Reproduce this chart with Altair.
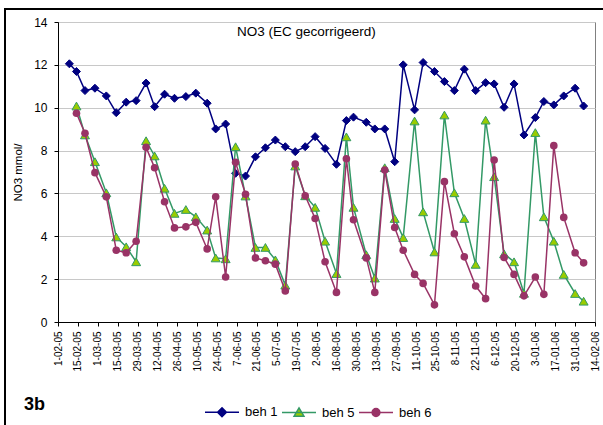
import altair as alt
import pandas as pd

# ---- data -------------------------------------------------------------
sample_dates = [
    "2005-02-09", "2005-02-14", "2005-02-20", "2005-02-27", "2005-03-07",
    "2005-03-14", "2005-03-21", "2005-03-28", "2005-04-04", "2005-04-10",
    "2005-04-17", "2005-04-24", "2005-05-02", "2005-05-09", "2005-05-17",
    "2005-05-23", "2005-05-30", "2005-06-06", "2005-06-13", "2005-06-20",
    "2005-06-27", "2005-07-04", "2005-07-11", "2005-07-18", "2005-07-25",
    "2005-08-01", "2005-08-08", "2005-08-16", "2005-08-23", "2005-08-28",
    "2005-09-06", "2005-09-12", "2005-09-19", "2005-09-26", "2005-10-02",
    "2005-10-10", "2005-10-16", "2005-10-24", "2005-10-31", "2005-11-07",
    "2005-11-14", "2005-11-22", "2005-11-29", "2005-12-05", "2005-12-12",
    "2005-12-19", "2005-12-26", "2006-01-03", "2006-01-09", "2006-01-16",
    "2006-01-23", "2006-01-31", "2006-02-06",
]

beh1 = [
    12.05, 11.69, 10.80, 10.91, 10.55, 9.77, 10.26, 10.33, 11.15, 10.05,
    10.63, 10.44, 10.52, 10.68, 10.21, 9.01, 9.24, 6.94, 6.81, 7.71,
    8.13, 8.49, 8.18, 7.95, 8.18, 8.65, 8.10, 7.36, 9.40, 9.56,
    9.32, 9.01, 9.01, 7.48, 12.00, 9.90, 12.11, 11.69, 11.22, 10.80,
    11.80, 10.80, 11.17, 11.11, 10.02, 11.11, 8.73, 9.54, 10.29, 10.13,
    10.55, 10.91, 10.08,
]

beh5 = [
    None, 10.08, 8.73, 7.48, 6.03, 3.97, 3.51, 2.81, 8.46, 7.75,
    6.24, 5.07, 5.25, 4.91, 4.29, 2.99, 2.95, 8.18, 5.88, 3.48,
    3.48, 2.90, 1.72, 7.28, 5.89, 5.35, 3.77, 2.26, 8.64, 5.35,
    3.14, 2.05, 7.20, 4.83, 3.94, 9.38, 5.14, 3.27, 9.66, 6.03,
    4.83, 2.69, 9.42, 6.78, 3.18, 2.81, 1.34, 8.84, 4.91, 3.77,
    2.22, 1.33, 0.97,
]

beh6 = [
    None, 9.74, 8.81, 6.97, 5.84, 3.35, 3.23, 3.77, 8.15, 7.20,
    5.61, 4.39, 4.44, 4.65, 3.41, 5.84, 2.10, 7.45, 5.96, 2.99,
    2.86, 2.70, 1.45, 7.37, 5.89, 4.83, 2.81, 1.38, 7.62, 4.77,
    2.99, 1.38, 7.09, 4.41, 3.35, 2.22, 1.80, 0.80, 6.55, 4.12,
    3.04, 1.68, 1.09, 7.56, 3.01, 2.22, 1.22, 2.10, 1.29, 8.23,
    4.88, 3.23, 2.76,
]

series_names = ["beh 1", "beh 5", "beh 6"]

tick_labels = [
    "1-02-05", "15-02-05", "1-03-05", "15-03-05", "29-03-05", "12-04-05",
    "26-04-05", "10-05-05", "24-05-05", "7-06-05", "21-06-05", "5-07-05",
    "19-07-05", "2-08-05", "16-08-05", "30-08-05", "13-09-05", "27-09-05",
    "11-10-05", "25-10-05", "8-11-05", "22-11-05", "6-12-05", "20-12-05",
    "3-01-06", "17-01-06", "31-01-06", "14-02-06",
]
y_ticks = [0, 2, 4, 6, 8, 10, 12, 14]

chart_title = "NO3 (EC gecorrigeerd)"
panel_label = "3b"
y_title = "NO3 mmol/"

# ---- styling ----------------------------------------------------------
FONT = "Liberation Sans"
line_colors = ["#000080", "#339966", "#993366"]
marker_fills = ["#000080", "#99cc00", "#993366"]
marker_shapes = ["diamond", "triangle-up", "circle"]
marker_sizes = [64, 80, 58]
marker_strokes = [1, 1, 0]
# legend symbols: a short line segment with the series marker on it
legend_paths = [
    "M-1,0L1,0M0,-0.26L0.26,0L0,0.26L-0.26,0Z",
    "M-1,0L1,0M0,-0.27L0.29,0.22L-0.29,0.22Z",
    "M-1,0L1,0M0.23,0A0.23,0.23,0,1,1,-0.23,0A0.23,0.23,0,1,1,0.23,0Z",
]


def label_to_ms(lbl):
    d, m, y = lbl.split("-")
    ts = pd.Timestamp(f"20{y}-{m}-{int(d):02d}", tz="UTC")
    return int(ts.value // 10**6)


tick_ms = [label_to_ms(t) for t in tick_labels]

rows = []
for i, d in enumerate(sample_dates):
    for name, vals in zip(series_names, [beh1, beh5, beh6]):
        if vals[i] is not None:
            rows.append({"date": d, "series": name, "value": vals[i]})
df = pd.DataFrame(rows)

x_enc = alt.X(
    "date:T",
    scale=alt.Scale(type="utc", domain=[tick_ms[0], tick_ms[-1]], nice=False),
    axis=alt.Axis(
        values=tick_ms,
        labelExpr="utcFormat(datum.value, '%-d-%m-%y')",
        title=None,
        grid=False,
        tickSize=4,
        labelAngle=270,
        labelAlign="right",
        labelBaseline="middle",
        labelPadding=5,
        labelFontSize=10,
        labelOverlap=False,
        labelFlush=False,
        labelBound=False,
    ),
)
y_enc = alt.Y(
    "value:Q",
    scale=alt.Scale(domain=[0, 14], nice=False),
    axis=alt.Axis(
        values=y_ticks,
        title=y_title,
        titleFontSize=11.5,
        titleFontWeight="normal",
        titleAngle=270,
        titleX=-40,
        titleY=150,
        titleAlign="center",
        titleBaseline="middle",
        grid=True,
        gridColor="#c8c8c8",
        gridWidth=1.2,
        tickSize=4,
        labelPadding=7,
        labelFontSize=12,
    ),
)

base = alt.Chart(df)

# outer chart frame
frame = alt.Chart(alt.Data(values=[{}])).mark_rect(
    fillOpacity=0, stroke="black", strokeWidth=2
).encode(
    x=alt.value(-53), x2=alt.value(570), y=alt.value(-13), y2=alt.value(430)
)

layers = [frame]
for name, lc, mf, shp, sz, sw in zip(series_names, line_colors, marker_fills,
                                     marker_shapes, marker_sizes, marker_strokes):
    sub = base.transform_filter(alt.datum.series == name)
    layers.append(
        sub.mark_line(color=lc, strokeWidth=1.5).encode(x=x_enc, y=y_enc)
    )
    layers.append(
        sub.mark_point(shape=shp, filled=True, fill=mf, stroke=lc,
                       strokeWidth=sw, size=sz, opacity=1).encode(x=x_enc, y=y_enc)
    )

legend = alt.Legend(
    title=None,
    orient="none",
    legendX=146,
    legendY=372,
    direction="horizontal",
    symbolSize=1156,
    symbolStrokeWidth=1.5,
    symbolOpacity=1,
    labelFont=FONT,
    labelFontSize=13,
    labelColor="black",
    labelOffset=5,
    columnPadding=1,
    padding=0,
)
legend_layer = base.mark_point(filled=True, opacity=0).encode(
    x=x_enc,
    y=y_enc,
    shape=alt.Shape("series:N", scale=alt.Scale(domain=series_names, range=legend_paths), legend=legend),
    fill=alt.Fill("series:N", scale=alt.Scale(domain=series_names, range=marker_fills), legend=legend),
    stroke=alt.Stroke("series:N", scale=alt.Scale(domain=series_names, range=line_colors), legend=legend),
)
layers.append(legend_layer)

title_text = alt.Chart(alt.Data(values=[{"t": chart_title}])).mark_text(
    align="left", baseline="alphabetic", font=FONT, fontSize=13.5, color="black"
).encode(x=alt.value(179), y=alt.value(14), text="t:N")

panel_text = alt.Chart(alt.Data(values=[{"t": panel_label}])).mark_text(
    align="left", baseline="alphabetic", font=FONT, fontSize=18,
    fontWeight="bold", color="black"
).encode(x=alt.value(-34), y=alt.value(388), text="t:N")

layers += [title_text, panel_text]

chart = alt.layer(*layers).properties(
    width=537,
    height=300,
    autosize=alt.AutoSizeParams(type="none"),
    padding={"left": 58, "top": 22, "right": 8, "bottom": 103},
    background="white",
).configure_view(
    stroke="#808080", strokeWidth=1
).configure_axis(
    domainColor="black",
    domainWidth=1,
    tickColor="black",
    labelColor="black",
    titleColor="black",
    labelFont=FONT,
    titleFont=FONT,
)

chart.save("out.html", embed_options={"renderer": "svg", "actions": False})
